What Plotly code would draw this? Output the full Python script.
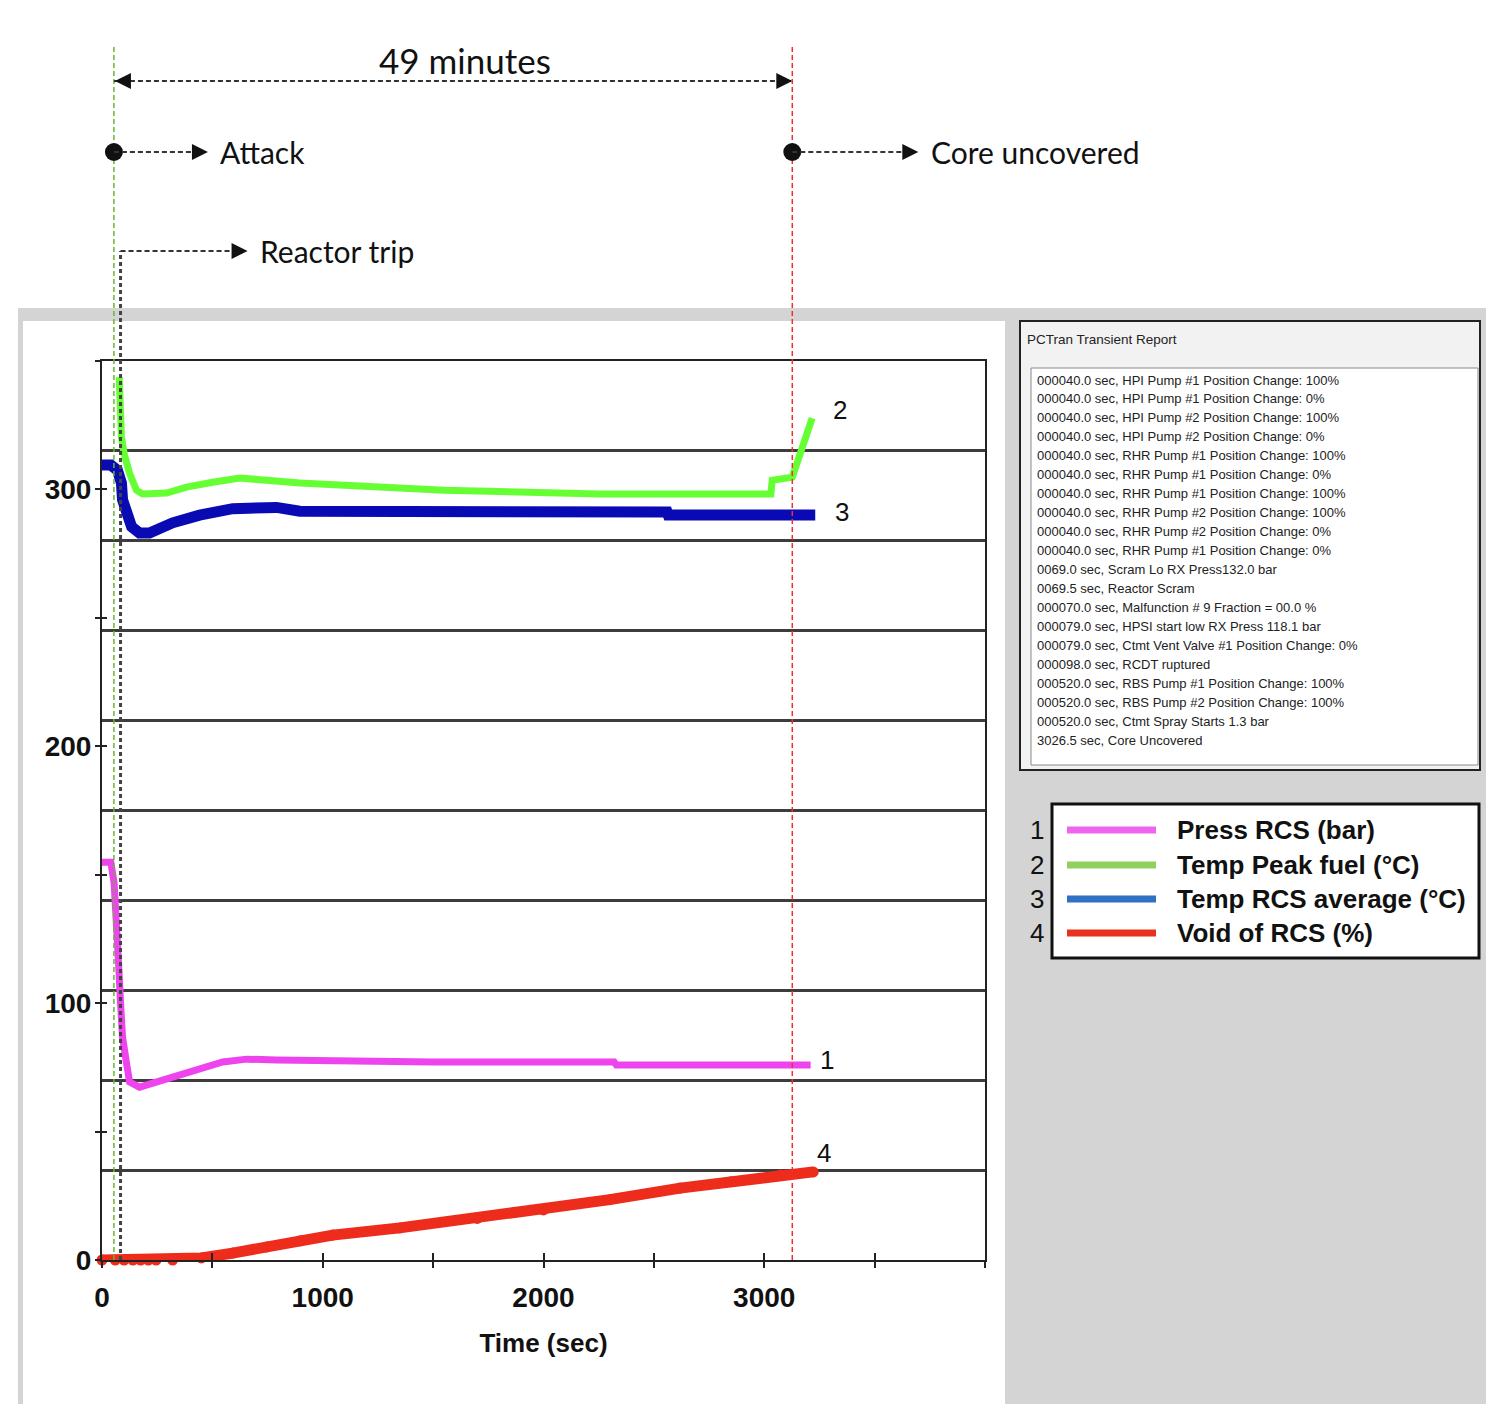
import plotly.graph_objects as go

# ---------------- data ----------------
press_t = [0, 40, 55, 70, 75, 84, 93, 111, 125, 170, 274, 397, 547, 655, 790, 1500, 2320, 2330, 3210]
press_v = [154.9, 154.9, 146.7, 129.6, 115.6, 100, 86.8, 76.7, 69.3, 67.3, 70, 73.2, 77.1, 78.2, 77.9, 77.1, 77.1, 75.9, 75.9]

fuel_t = [78, 88, 102, 125, 156, 184, 292, 383, 501, 624, 746, 896, 1550, 2250, 3030, 3036, 3127, 3163, 3199, 3217]
fuel_v = [343.7, 320.4, 313.3, 306.3, 299.7, 298.2, 298.6, 300.9, 302.8, 304.4, 303.6, 302.5, 299.7, 298.2, 298.2, 303.6, 304.8, 314.5, 323, 327.8]

avg_t = [0, 40, 70, 88, 93, 111, 134, 170, 215, 320, 442, 592, 683, 791, 896, 2560, 2565, 3231]
avg_v = [309.5, 309.5, 307.5, 302.5, 296, 291, 285.5, 283, 283, 287, 290, 292.5, 293, 293, 291.5, 291.2, 290, 290]

void_t = [0, 60, 100, 140, 175, 210, 245, 320, 450, 592, 746, 900, 1045, 1349, 1700, 2000, 2300, 2619, 2850, 3073, 3222]
void_v = [0, 0, 0, 0, 0, 0, 0, 0, 0.8, 2.7, 5.1, 7.5, 9.7, 12.5, 16.2, 19.5, 23.5, 28, 30.5, 33.1, 34.3]

series_names = ["Press RCS (bar)", "Temp Peak fuel (°C)", "Temp RCS average (°C)", "Void of RCS (%)"]
series_nums = ["1", "2", "3", "4"]
line_colors = ["#ee44ee", "#66ff33", "#0a0ab4", "#ee2c1c"]
legend_colors = ["#ee66ee", "#8fd15c", "#2f6fc4", "#e8321f"]

x_tickvals = [0, 500, 1000, 1500, 2000, 2500, 3000, 3500, 4000]
x_ticktext = ["0", "", "1000", "", "2000", "", "3000", "", ""]
y_tickvals = [0, 50, 100, 150, 200, 250, 300, 350]
y_ticktext = ["0", "", "100", "", "200", "", "300", ""]

event_times = [54, 84, 3127]          # attack, reactor trip, core uncovered (as drawn)
event_labels = ["Attack", "Reactor trip", "Core uncovered"]
duration_label = "49 minutes"

report_title = "PCTran Transient Report"
report_lines = [
    "000040.0 sec, HPI Pump #1 Position Change: 100%",
    "000040.0 sec, HPI Pump #1 Position Change: 0%",
    "000040.0 sec, HPI Pump #2 Position Change: 100%",
    "000040.0 sec, HPI Pump #2 Position Change: 0%",
    "000040.0 sec, RHR Pump #1 Position Change: 100%",
    "000040.0 sec, RHR Pump #1 Position Change: 0%",
    "000040.0 sec, RHR Pump #1 Position Change: 100%",
    "000040.0 sec, RHR Pump #2 Position Change: 100%",
    "000040.0 sec, RHR Pump #2 Position Change: 0%",
    "000040.0 sec, RHR Pump #1 Position Change: 0%",
    "0069.0 sec, Scram Lo RX Press132.0 bar",
    "0069.5 sec, Reactor Scram",
    "000070.0 sec, Malfunction # 9 Fraction = 00.0 %",
    "000079.0 sec, HPSI start low RX Press 118.1 bar",
    "000079.0 sec, Ctmt Vent Valve #1 Position Change: 0%",
    "000098.0 sec, RCDT ruptured",
    "000520.0 sec, RBS Pump #1 Position Change: 100%",
    "000520.0 sec, RBS Pump #2 Position Change: 100%",
    "000520.0 sec, Ctmt Spray Starts 1.3 bar",
    "3026.5 sec, Core Uncovered",
]

# ---------------- layout helpers (pixel -> paper) ----------------
W, H = 1486, 1404
PL, PR, PT, PB = 102, 985, 361, 1260


def px(p):
    return (p - PL) / (PR - PL)


def py(p):
    return (PB - p) / (PB - PT)


fig = go.Figure()

widths = [7, 7, 11, 11]
data = [(press_t, press_v), (fuel_t, fuel_v), (avg_t, avg_v), (void_t, void_v)]
order = [3, 0, 2, 1]
for i in order:
    t, v = data[i]
    fig.add_trace(go.Scatter(
        x=t, y=v, mode="lines+markers" if i == 3 else "lines",
        line=dict(color=line_colors[i], width=widths[i]),
        marker=dict(size=11, color=line_colors[i]) if i == 3 else None,
        cliponaxis=False if i == 3 else True,
        name=series_names[i], hoverinfo="skip", showlegend=False))

# dummy trace for overlay axes (crossing ticks)
fig.add_trace(go.Scatter(x=[0], y=[0], xaxis="x2", yaxis="y2", mode="markers",
                         marker=dict(opacity=0), hoverinfo="skip", showlegend=False))

tick_font = dict(family="Liberation Sans", size=28, color="#111", weight="bold")

fig.update_layout(
    width=W, height=H,
    margin=dict(l=PL, r=W - PR, t=PT, b=H - PB, pad=0),
    paper_bgcolor="white", plot_bgcolor="white",
    showlegend=False,
    xaxis=dict(range=[0, 4000], tickmode="array", tickvals=x_tickvals, ticktext=x_ticktext,
               ticks="outside", ticklen=6, tickwidth=2, tickcolor="#222",
               showline=True, linecolor="#222", linewidth=2, mirror=True,
               showgrid=False, zeroline=False, tickfont=tick_font, ticklabelstandoff=5,
               title=dict(text="Time (sec)", font=dict(family="Liberation Sans", size=26,
                                                       color="#111", weight="bold"), standoff=22)),
    yaxis=dict(range=[0, 350], tickmode="array", tickvals=y_tickvals, ticktext=y_ticktext,
               ticks="outside", ticklen=5, tickwidth=2, tickcolor="#222",
               showline=True, linecolor="#222", linewidth=2, mirror=True,
               showgrid=False, zeroline=False, tickfont=tick_font, ticklabelstandoff=-2,
               minor=dict(tickmode="linear", tick0=0, dtick=35, showgrid=True,
                          gridcolor="#3c3c3c", gridwidth=2.5, ticks="")),
    xaxis2=dict(overlaying="x", matches="x", anchor="y", side="bottom", tickmode="array",
                tickvals=x_tickvals, ticks="inside", ticklen=7, tickwidth=2, tickcolor="#222",
                showticklabels=False, showline=False, showgrid=False, zeroline=False),
    yaxis2=dict(overlaying="y", matches="y", anchor="x", side="left", tickmode="array",
                tickvals=y_tickvals, ticks="inside", ticklen=5, tickwidth=2, tickcolor="#222",
                showticklabels=False, showline=False, showgrid=False, zeroline=False),
)

shapes = []
# window backgrounds
shapes.append(dict(type="rect", xref="paper", yref="paper", x0=px(18), x1=px(W + 5),
                   y0=py(H + 5), y1=py(308), fillcolor="#d4d4d4", line=dict(width=0), layer="below"))
shapes.append(dict(type="rect", xref="paper", yref="paper", x0=px(23), x1=px(1005),
                   y0=py(H + 5), y1=py(321), fillcolor="white", line=dict(width=0), layer="below"))
# report window
shapes.append(dict(type="rect", xref="paper", yref="paper", x0=px(1020), x1=px(1480),
                   y0=py(770), y1=py(321), fillcolor="#f2f2f2", line=dict(color="#222", width=2)))
shapes.append(dict(type="rect", xref="paper", yref="paper", x0=px(1031), x1=px(1478),
                   y0=py(765), y1=py(368), fillcolor="white", line=dict(color="#8a8a8a", width=1)))
# legend box
shapes.append(dict(type="rect", xref="paper", yref="paper", x0=px(1052), x1=px(1479),
                   y0=py(958), y1=py(804), fillcolor="white", line=dict(color="#111", width=3)))
legend_rows = [830, 865, 899, 933]
for i in range(4):
    shapes.append(dict(type="line", xref="paper", yref="paper", x0=px(1067), x1=px(1156),
                       y0=py(legend_rows[i]), y1=py(legend_rows[i]),
                       line=dict(color=legend_colors[i], width=7)))

t_att, t_trip, t_core = event_times
dash_col = "#333333"
fine_dash = "5px,3px"
# vertical event lines
shapes.append(dict(type="line", xref="x", yref="paper", x0=t_att, x1=t_att, y0=0, y1=py(45),
                   line=dict(color="#66b833", width=1.5, dash=fine_dash)))
shapes.append(dict(type="line", xref="x", yref="paper", x0=t_core, x1=t_core, y0=0, y1=py(45),
                   line=dict(color="#ee3030", width=1.5, dash=fine_dash)))
shapes.append(dict(type="line", xref="x", yref="paper", x0=t_trip, x1=t_trip, y0=0, y1=py(251),
                   line=dict(color="#444444", width=3, dash="4px,3px")))
# duration arrow
shapes.append(dict(type="line", xref="x", yref="paper", x0=t_att, x1=t_core, y0=py(81), y1=py(81),
                   line=dict(color=dash_col, width=2, dash=fine_dash)))


def arrowhead(t, ypix, tip, direction):
    # direction +1 -> pointing right, -1 -> pointing left; tip = pixel offset from t
    b = tip - direction * 16
    return dict(type="path", xref="x", yref="paper", xsizemode="pixel", ysizemode="pixel",
                xanchor=t, yanchor=py(ypix),
                path=f"M {tip},0 L {b},-8 L {b},8 Z", fillcolor="#111", line=dict(width=0))


def dot(t, ypix):
    return dict(type="circle", xref="x", yref="paper", xsizemode="pixel", ysizemode="pixel",
                xanchor=t, yanchor=py(ypix), x0=-9, x1=9, y0=-9, y1=9,
                fillcolor="#111", line=dict(width=0))


def hline(t, ypix, a, b):
    return dict(type="line", xref="x", yref="paper", xsizemode="pixel",
                xanchor=t, x0=a, x1=b, y0=py(ypix), y1=py(ypix),
                line=dict(color=dash_col, width=2, dash=fine_dash))


shapes += [arrowhead(t_att, 81, 1, -1), arrowhead(t_core, 81, 0, 1)]
shapes += [dot(t_att, 152), hline(t_att, 152, 0, 82), arrowhead(t_att, 152, 94, 1)]
shapes += [dot(t_core, 152), hline(t_core, 152, 0, 112), arrowhead(t_core, 152, 126, 1)]
shapes += [hline(t_trip, 251, 0, 112), arrowhead(t_trip, 251, 127, 1)]

fig.update_layout(shapes=shapes)

ann = []
top_font = dict(family="Lato", size=30, color="#111")
ann.append(dict(x=t_att, xref="x", y=py(152), yref="paper", xshift=104, text=event_labels[0],
                showarrow=False, xanchor="left", yanchor="middle", font=top_font))
ann.append(dict(x=t_trip, xref="x", y=py(251), yref="paper", xshift=137, text=event_labels[1],
                showarrow=False, xanchor="left", yanchor="middle", font=top_font))
ann.append(dict(x=t_core, xref="x", y=py(152), yref="paper", xshift=137, text=event_labels[2],
                showarrow=False, xanchor="left", yanchor="middle", font=top_font))
ann.append(dict(x=(t_att + t_core) / 2, xref="x", y=py(60), yref="paper", xshift=12,
                text=duration_label, showarrow=False, xanchor="center", yanchor="middle",
                font=dict(family="Lato", size=35, color="#111")))

# curve end labels
end_shift = [(16, 5), (28, 8), (27, 3), (11, 19)]
for i in range(4):
    t, v = data[i]
    ann.append(dict(x=t[-1], y=v[-1], xref="x", yref="y", text=series_nums[i], showarrow=False,
                    xshift=end_shift[i][0], yshift=end_shift[i][1], xanchor="center", yanchor="middle",
                    font=dict(family="Liberation Sans", size=26, color="#111")))

# report
ann.append(dict(x=px(1025), y=py(339), xref="paper", yref="paper", text=report_title,
                showarrow=False, xanchor="left", yanchor="middle",
                font=dict(family="Liberation Sans", size=13.5, color="#222")))
for k, line in enumerate(report_lines):
    ann.append(dict(x=px(1035), y=py(380 + 18.95 * k), xref="paper", yref="paper", text=line,
                    showarrow=False, xanchor="left", yanchor="middle",
                    font=dict(family="Liberation Sans", size=13, color="#222")))

# legend
for i in range(4):
    ann.append(dict(x=px(1037), y=py(legend_rows[i]), xref="paper", yref="paper", text=series_nums[i],
                    showarrow=False, xanchor="center", yanchor="middle",
                    font=dict(family="Liberation Sans", size=26, color="#111")))
    ann.append(dict(x=px(1175), y=py(legend_rows[i]), xref="paper", yref="paper", text=series_names[i],
                    showarrow=False, xanchor="left", yanchor="middle",
                    font=dict(family="Liberation Sans", size=26, color="#111", weight="bold")))

fig.update_layout(annotations=ann)

fig.write_html("out.html", config={"displayModeBar": False},
               post_script="document.body.style.margin='0';document.body.style.overflow='hidden';")
